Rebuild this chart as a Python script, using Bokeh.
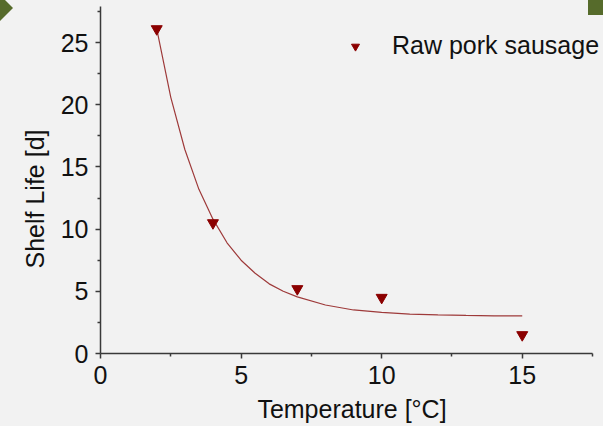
from bokeh.plotting import figure
from bokeh.models import Legend, LegendItem, FixedTicker, Range1d, Title
from bokeh.embed import file_html
from bokeh.resources import INLINE

# data
temperature = [2, 4, 7, 10, 15]
shelf_life = [26.1, 10.5, 5.2, 4.5, 1.5]
fit_x = [2, 2.5, 3, 3.5, 4, 4.5, 5, 5.5, 6, 6.5, 7, 8, 9, 10, 11, 12, 13, 14, 15]
fit_y = [26.1, 20.6, 16.4, 13.2, 10.8, 8.9, 7.5, 6.45, 5.6, 5.0, 4.55, 3.9, 3.5, 3.3, 3.17, 3.1, 3.06, 3.03, 3.02]
x_ticks = [0, 5, 10, 15]
y_ticks = [0, 5, 10, 15, 20, 25]
series_name = "Raw pork sausage"
x_title = "Temperature [°C]"
y_title = "Shelf Life [d]"

BG = "#f2f2f2"
GREEN = "#566b2b"
FONT = "Liberation Sans"
FS = "25px"

p = figure(width=603, height=426, output_backend="svg", toolbar_location=None,
           x_range=Range1d(0, 17.89), y_range=Range1d(0, 27.9),
           min_border_left=100, min_border_right=0, min_border_top=6, min_border_bottom=73)
p.background_fill_alpha = 0
p.border_fill_alpha = 0
deco = ("url(\"data:image/svg+xml;utf8,<svg xmlns='http://www.w3.org/2000/svg' width='603' height='426'>"
        "<polygon points='0,-5 13,8 0,21' fill='%23566b2b'/>"
        "<rect x='588' y='0' width='15' height='15' fill='%23566b2b'/></svg>\")")
p.styles = {"background-color": BG, "background-image": deco, "background-repeat": "no-repeat",
            "background-position": "0 0"}
p.outline_line_color = None
p.xgrid.visible = False
p.ygrid.visible = False

line_r = p.line(fit_x, fit_y, line_color="#9e3a3a", line_width=1.2)
pts = p.scatter(temperature, shelf_life, marker="inverted_triangle", size=11,
                fill_color="#8b0000", line_color="#8b0000")

for ax, ticks in ((p.xaxis[0], x_ticks), (p.yaxis[0], y_ticks)):
    step = ticks[1] - ticks[0]
    minors = [t + step / 2 for t in ticks]
    ax.ticker = FixedTicker(ticks=ticks, minor_ticks=minors)
    ax.axis_line_color = "#3a3a3a"
    ax.axis_line_width = 1.5
    ax.major_tick_line_color = "#3a3a3a"
    ax.minor_tick_line_color = "#3a3a3a"
    ax.major_tick_line_width = 1.5
    ax.minor_tick_line_width = 1.5
    ax.major_tick_out = 5
    ax.major_tick_in = 0
    ax.minor_tick_out = 3
    ax.minor_tick_in = 0
    ax.major_label_text_font = FONT
    ax.major_label_text_font_size = FS
    ax.major_label_text_color = "#111111"
    ax.axis_label_text_font = FONT
    ax.axis_label_text_font_size = FS
    ax.axis_label_text_font_style = "normal"
    ax.axis_label_text_color = "#111111"

p.xaxis.bounds = (0, 17.5)
p.xaxis.axis_label = x_title
p.xaxis.major_label_standoff = 7
p.yaxis.major_label_standoff = 7
p.xaxis.axis_label_standoff = 8

p.add_layout(Title(text=y_title, align="left", offset=85, text_font=FONT, text_font_size=FS,
                   text_font_style="normal", text_color="#111111", standoff=17), "left")

legend = Legend(items=[LegendItem(label=series_name, renderers=[pts])],
                location=(245, 293), background_fill_alpha=0, border_line_color=None,
                label_text_font=FONT, label_text_font_size=FS, label_text_color="#111111",
                glyph_width=20, label_standoff=27, padding=10, margin=0)
p.add_layout(legend)

open("out.html", "w").write(file_html(p, INLINE))
